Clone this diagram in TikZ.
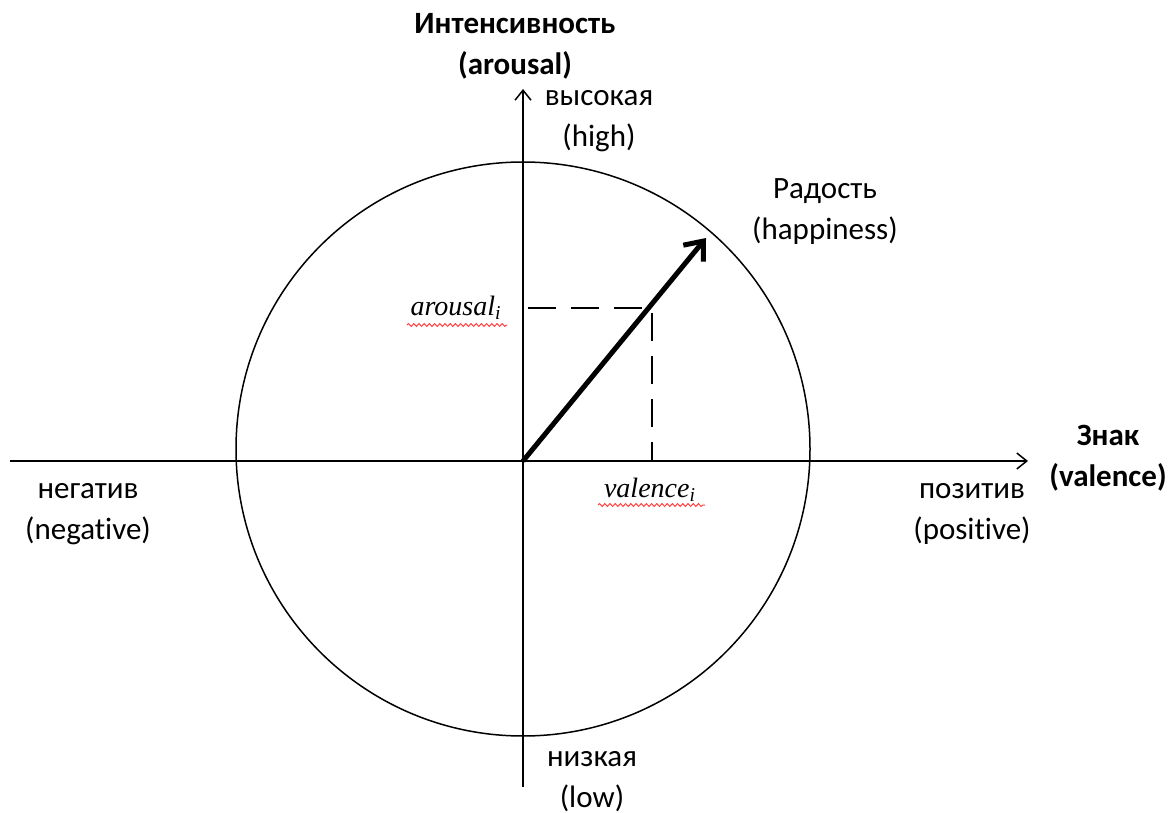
\documentclass[tikz,border=0pt]{standalone}
\usepackage{fontspec}
\setmainfont{Carlito}[Ligatures=NoCommon]
\newfontfamily\eqfont{Liberation Serif}
\usetikzlibrary{arrows.meta, decorations.pathmorphing}

\begin{document}
\begin{tikzpicture}[x=0.5pt, y=-0.5pt, >={Straight Barb[length=5pt, width=8pt]}, line width=0.75pt,
    lbl/.style={inner sep=0pt, align=center, font=\fontsize{15.5}{20.5}\selectfont},
    ttl/.style={lbl, font=\fontsize{15.5}{20.5}\selectfont\bfseries},
    var/.style={inner sep=0pt, font=\fontsize{14}{16}\selectfont\eqfont\itshape},
    spell/.style={red!75, line width=0.5pt, decorate, decoration={snake, segment length=2.6pt, amplitude=0.7pt}}]
    \useasboundingbox (0,0) rectangle (1173,813);
    % axes
    \coordinate (O) at (523,461);
    \coordinate (W) at (10,461); \coordinate (E) at (1028,461);
    \coordinate (S) at (523,787); \coordinate (N) at (523,89);
    \draw[->] (W) -- (E);
    \draw[->] (S) -- (N);
    \draw (523,449) circle (143.5pt);

    % vector and its projections
    \coordinate (P) at (652,308); \coordinate (Pa) at (528,308); \coordinate (Pv) at (652,461);
    \coordinate (Tip) at (706,238);
    \draw[dashed, dash pattern=on 14pt off 7.5pt, line width=1.4pt] (Pa) -- (P) -- (Pv);
    \draw[line width=2.5pt, -{Straight Barb[length=8pt, width=13pt]}] (O) -- (Tip);

    \node[ttl] (ytitle) at (515,46) {Интенсивность\\(arousal)};
    \node[ttl] (xtitle) at (1108,458) {Знак\\(valence)};
    \node[lbl] (high) at (599,121) {высокая\\(high)};
    \node[lbl] (low) at (592,782) {низкая\\(low)};
    \node[lbl] (neg) at (88,514) {негатив\\(negative)};
    \node[lbl] (pos) at (972,514) {позитив\\(positive)};
    \node[lbl] (joy) at (825,212) {Радость\\(happiness)};

    \node[var] (ar) at (456,308) {arousal\textsubscript{i}};
    \node[var] (va) at (650,490) {valence\textsubscript{i}};
    \draw[spell] (407,325) -- (507,325);
    \draw[spell] (598,505) -- (705,505);
\end{tikzpicture}
\end{document}
